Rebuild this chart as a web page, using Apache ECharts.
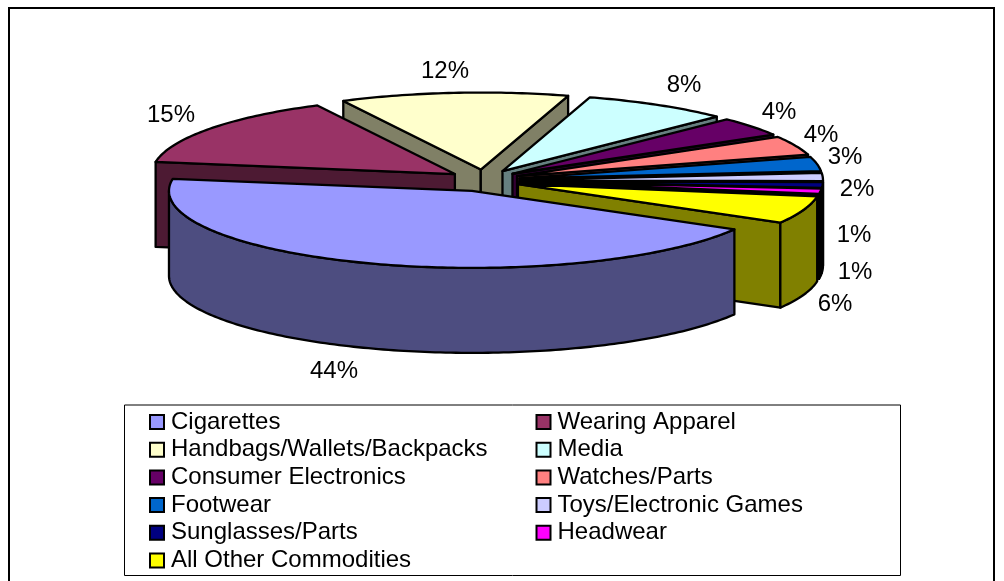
<!DOCTYPE html>
<html><head><meta charset="utf-8">
<style>html,body{margin:0;padding:0;background:#fff}#c{width:1004px;height:581px}</style>
<script src="https://cdn.jsdelivr.net/npm/echarts@6/dist/echarts.min.js"></script>
</head><body><div id="c"></div>
<script>
// Data
const categories = ['Cigarettes','Wearing Apparel','Handbags/Wallets/Backpacks','Media','Consumer Electronics','Watches/Parts','Footwear','Toys/Electronic Games','Sunglasses/Parts','Headwear','All Other Commodities'];
const shares = [44.17,15,12.15,7.85,4,4,3,1.7,1.2,1.1,5.83];
// Styles
const topColors = ['#9999FF','#993366','#FFFFCC','#CCFFFF','#660066','#FF8080','#0066CC','#CCCCFF','#000080','#FF00FF','#FFFF00'];
const wallColors = ['#4D4D80','#4D1A33','#808066','#668080','#330033','#804040','#003366','#666680','#000000','#000000','#808000'];
// Layout
const drawOrder = [2,3,4,5,6,7,8,9,10,1,0];
const labelCenters = [[334,371],[171,115],[445,71],[684,85],[779,112],[821,135],[845,157],[857,189],[854,235],[855,272],[835,304]];
const PIE = {cx:484, cy:180.5, a:303, b:77, depth:85, ex:36, ey:11, start:120};
const FONT = 'Liberation Sans, Arial, sans-serif';
const FS = 24;

const rad = d => d*Math.PI/180;
const total = shares.reduce((s,v)=>s+v,0);
const bounds = [];
{ let t = PIE.start; shares.forEach(v=>{ const e=t+v/total*360; bounds.push([t,e]); t=e; }); }

function makeRender(i){
  return function(params, api){
    const span = api.value(0)/total*360;
    const s = bounds[i][0], e = s+span, mid=(s+e)/2;
    const ax = PIE.cx+PIE.ex*Math.sin(rad(mid)), ay = PIE.cy-PIE.ey*Math.cos(rad(mid));
    const pt = (t,dz=0)=>[ax+PIE.a*Math.sin(rad(t)), ay-PIE.b*Math.cos(rad(t))+dz];
    const arc = (t0,t1,dz=0)=>{const o=[];const n=Math.max(2,Math.ceil(Math.abs(t1-t0)));for(let k=0;k<=n;k++)o.push(pt(t0+(t1-t0)*k/n,dz));return o;};
    const base = {stroke:'#000',lineWidth:2.3,lineJoin:'round'};
    const poly = (points,fill)=>({type:'polygon',shape:{points},style:Object.assign({fill},base)});
    const children=[];
    const wall = t=>poly([[ax,ay],pt(t),pt(t,PIE.depth),[ax,ay+PIE.depth]],wallColors[i]);
    if(Math.sin(rad(s))<0) children.push(wall(s));
    if(Math.sin(rad(e))>0) children.push(wall(e));
    const norm = t=>((t%360)+360)%360;
    const ns=norm(s), ne=ns+span;
    const r0=Math.max(ns,90), r1=Math.min(ne,270);
    if(r1>r0) children.push(poly(arc(r0,r1).concat(arc(r1,r0,PIE.depth)),wallColors[i]));
    children.push(poly([[ax,ay]].concat(arc(s,e)),topColors[i]));
    children.push({type:'text',style:{text:Math.round(api.value(0))+'%',x:labelCenters[i][0],y:labelCenters[i][1],align:'center',verticalAlign:'middle',fill:'#000',font:FS+'px '+FONT}});
    return {type:'group',children};
  };
}

const series = drawOrder.map((i,order)=>({
  type:'custom', name:categories[i], coordinateSystem:'none', z:2+order, silent:true, animation:false,
  itemStyle:{color:topColors[i]}, data:[[shares[i]]], renderItem:makeRender(i)
}));

const legendBase = {orient:'vertical',selectedMode:false,itemWidth:14,itemHeight:14,itemGap:3.7,padding:0,z:30,
  itemStyle:{borderColor:'#000',borderWidth:2},icon:'rect',
  textStyle:{color:'#000',fontFamily:FONT,fontSize:FS,lineHeight:24,padding:[0,0,0,2]}};
const col = k=>categories.map((n,i)=>({name:n,i})).filter(o=>o.i%2===k).map(o=>({name:o.name,itemStyle:{color:topColors[o.i],borderColor:'#000',borderWidth:2}}));

const chart = echarts.init(document.getElementById('c'),null,{width:1004,height:581});
chart.setOption({
  backgroundColor:'#fff', animation:false,
  legend:[Object.assign({},legendBase,{left:149,top:410,height:170,data:col(0)}),Object.assign({},legendBase,{left:535.5,top:410,height:170,data:col(1)})],
  graphic:[
    {type:'rect',z:0,silent:true,shape:{x:9,y:8,width:985,height:590},style:{fill:'#fff',stroke:'#000',lineWidth:2}},
    {type:'rect',z:1,silent:true,shape:{x:124.5,y:405,width:776,height:170.5},style:{fill:'#fff',stroke:'#000',lineWidth:1}}
  ],
  series
});
</script></body></html>
